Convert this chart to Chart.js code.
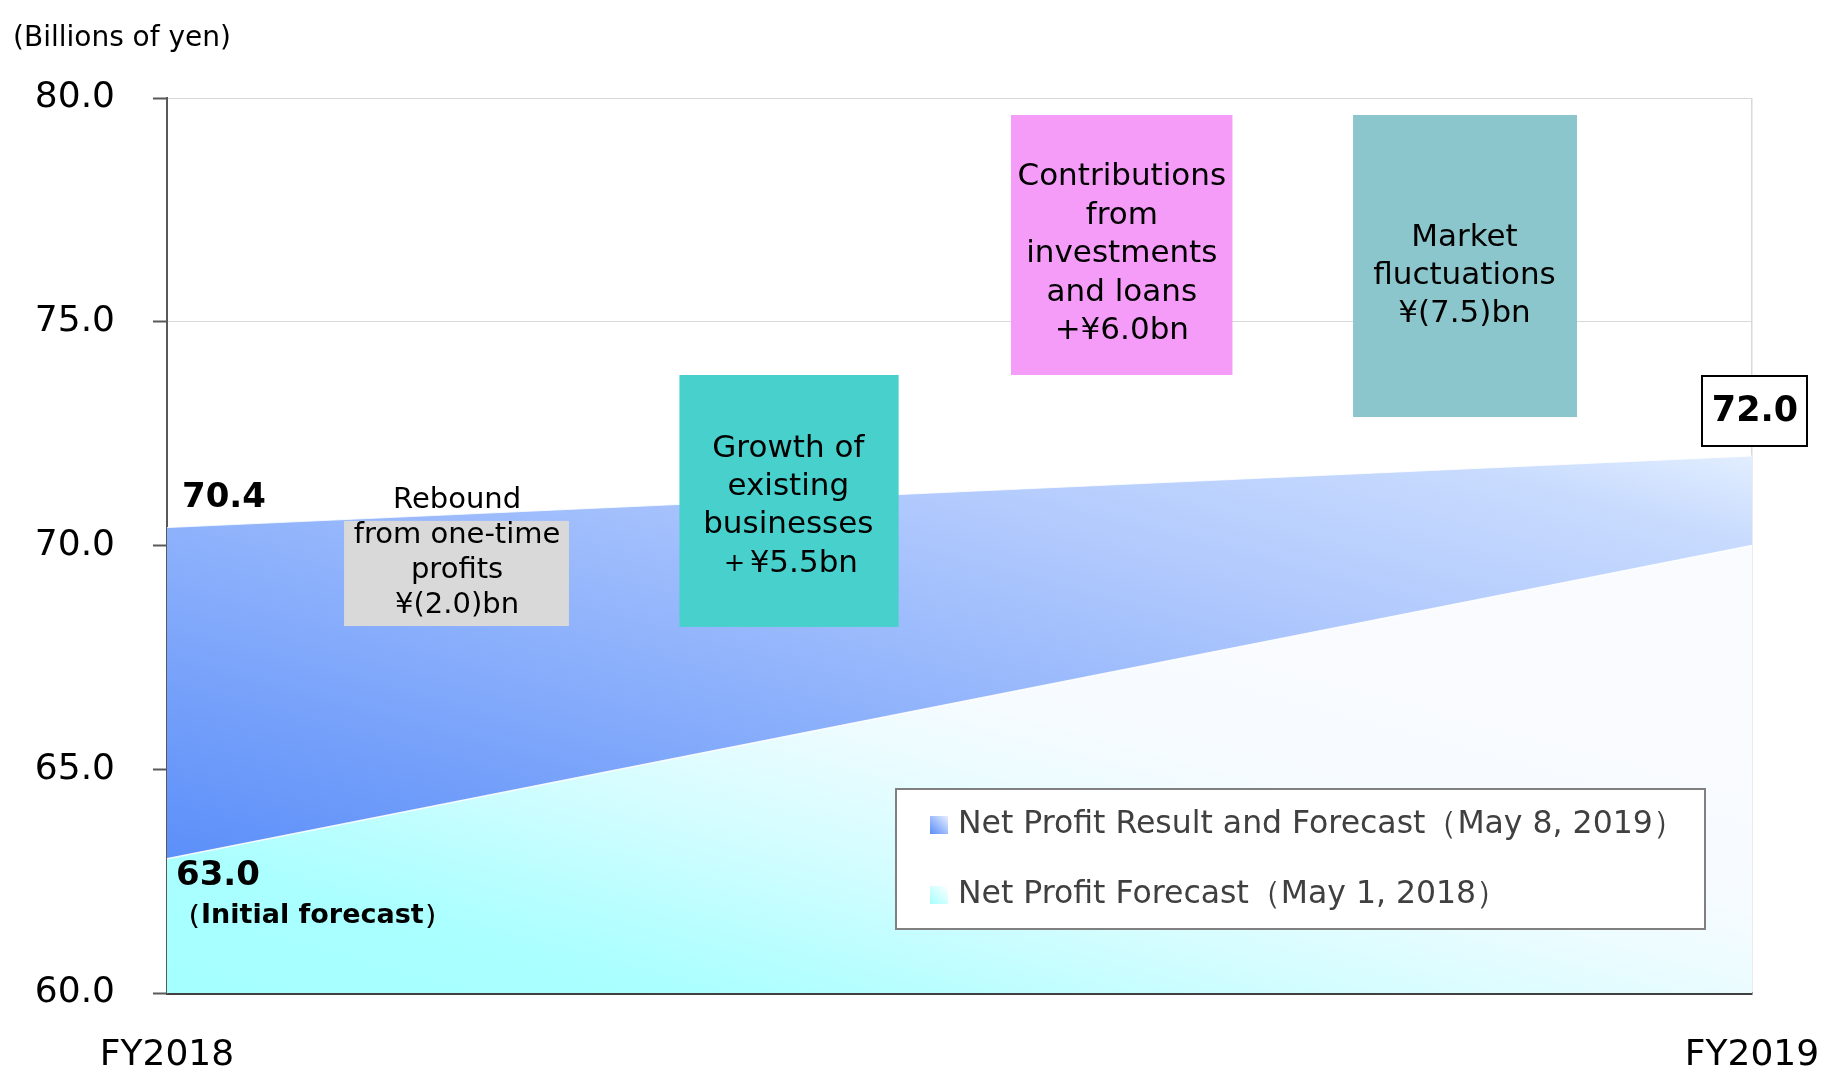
<!DOCTYPE html>
<html>
<head>
<meta charset="utf-8">
<script src="https://cdn.jsdelivr.net/npm/chart.js@4.4.1/dist/chart.umd.min.js"></script>
<style>
  html, body { margin: 0; padding: 0; background: #fff; }
  canvas { display: block; }
</style>
</head>
<body>
<canvas id="grafico" width="1837" height="1070"></canvas>
<script>
// Dados do gráfico (bilhões de ienes)
const anos = ['FY2018', 'FY2019'];
const resultado2019 = [70.4, 72.0];   // Net Profit Result and Forecast (May 8, 2019)
const previsao2018 = [63.0, 70.0];    // Net Profit Forecast (May 1, 2018)
const nomesSeries = ['Net Profit Result and Forecast（May 8, 2019）', 'Net Profit Forecast（May 1, 2018）'];
const eixoY = { min: 60, max: 80, passo: 5 };

// Textos das caixas explicativas
const textosCaixas = [
  ['Rebound', 'from one-time', 'profits', '¥(2.0)bn'],
  ['Growth of', 'existing', 'businesses', '＋¥5.5bn'],
  ['Contributions', 'from', 'investments', 'and loans', '+¥6.0bn'],
  ['Market', 'fluctuations', '¥(7.5)bn']
];

const FONTE = "'DejaVu Sans', Verdana, sans-serif";

// Posição das caixas em unidades do gráfico (x: 0 = FY2018, 1 = FY2019)
const caixas = [
  { x0: 0.1117, x1: 0.2536, y0: 70.55, y1: 68.20, cx: 0.183, cy: 69.84, linha: 35, tam: 29, cor: '#d9d9d9' },
  { x0: 0.3233, x1: 0.4616, y0: 73.81, y1: 68.18, cx: 0.392, cy: 70.88, linha: 38.3, tam: 31, cor: '#48d1cc' },
  { x0: 0.5325, x1: 0.6722, y0: 79.62, y1: 73.81, cx: 0.6024, cy: 76.51, linha: 38.4, tam: 31, cor: '#f49cf8' },
  { x0: 0.7483, x1: 0.8896, y0: 79.62, y1: 72.87, cx: 0.8186, cy: 76.02, linha: 38.3, tam: 31, cor: '#8bc6cc' }
];

// Gradiente na direção da diagonal (igual para as duas áreas)
function gradiente(chart, comprimento, paradas) {
  const a = chart.chartArea;
  const dx = 0.261, dy = -0.965;
  const L = comprimento * (a.bottom - a.top);
  const g = chart.ctx.createLinearGradient(a.left, a.bottom, a.left + dx * L, a.bottom + dy * L);
  paradas.forEach(p => g.addColorStop(p[0], p[1]));
  return g;
}

const paradasAzul = [
  [0, 'rgb(71,129,248)'],
  [0.6, 'rgb(175,200,253)'],
  [0.77, 'rgb(200,219,254)'],
  [0.86, 'rgb(230,241,255)'],
  [1, 'rgb(240,247,255)']
];
const paradasCiano = [
  [0, 'rgb(165,255,255)'],
  [0.19, 'rgb(170,255,255)'],
  [0.29, 'rgb(185,254,255)'],
  [0.43, 'rgb(210,253,255)'],
  [0.6, 'rgb(235,252,255)'],
  [0.71, 'rgb(246,251,255)'],
  [1, 'rgb(250,251,255)']
];

function texto(ctx, str, x, y, fonte, alinhamento, cor) {
  ctx.font = fonte;
  ctx.textAlign = alinhamento || 'center';
  ctx.textBaseline = 'middle';
  ctx.fillStyle = cor || '#000';
  ctx.fillText(str, x, y);
}

// Caixas, rótulos e legenda
const anotacoes = {
  id: 'anotacoes',
  afterDatasetsDraw(chart) {
    const { ctx, scales: { x, y } } = chart;
    ctx.save();
    caixas.forEach((c, i) => {
      const x0 = x.getPixelForValue(c.x0), x1 = x.getPixelForValue(c.x1);
      const y0 = y.getPixelForValue(c.y0), y1 = y.getPixelForValue(c.y1);
      ctx.fillStyle = c.cor;
      ctx.fillRect(x0, y0, x1 - x0, y1 - y0);
      const linhas = textosCaixas[i];
      const cx = x.getPixelForValue(c.cx);
      const cy = y.getPixelForValue(c.cy);
      linhas.forEach((l, j) => {
        const yy = cy + (j - (linhas.length - 1) / 2) * c.linha;
        texto(ctx, l, cx, yy, c.tam + 'px ' + FONTE, 'center', '#000');
      });
    });

    // valores nas pontas
    const xa = x.getPixelForValue(0);
    texto(ctx, resultado2019[0].toFixed(1), xa + 15, y.getPixelForValue(resultado2019[0]) - 29, 'bold 34px ' + FONTE, 'left');
    texto(ctx, previsao2018[0].toFixed(1), xa + 9, y.getPixelForValue(previsao2018[0]) + 17, 'bold 34px ' + FONTE, 'left');
    texto(ctx, '（Initial forecast）', xa + 7, y.getPixelForValue(previsao2018[0]) + 57, 'bold 27px ' + FONTE, 'left');

    // caixa do valor final
    const xb = x.getPixelForValue(1);
    const yb = y.getPixelForValue(resultado2019[1]) - 45;
    ctx.fillStyle = '#fff';
    ctx.fillRect(xb - 50, yb - 35, 105, 70);
    ctx.strokeStyle = '#000';
    ctx.lineWidth = 2;
    ctx.strokeRect(xb - 50, yb - 35, 105, 70);
    texto(ctx, resultado2019[1].toFixed(1), xb + 3, yb + 1, 'bold 35px ' + FONTE, 'center');

    // legenda
    ctx.fillStyle = '#fff';
    ctx.fillRect(896, 789, 809, 140);
    ctx.strokeStyle = '#808080';
    ctx.lineWidth = 2;
    ctx.strokeRect(896, 789, 809, 140);
    const itens = [
      { y: 825, g: [[0, '#5a8cf8'], [1, '#e6efff']] },
      { y: 895, g: [[0, '#a5ffff'], [1, '#ffffff']] }
    ];
    itens.forEach((it, i) => {
      const g = ctx.createLinearGradient(930, it.y + 9, 948, it.y - 9);
      it.g.forEach(p => g.addColorStop(p[0], p[1]));
      ctx.fillStyle = g;
      ctx.fillRect(930, it.y - 9, 18, 18);
      texto(ctx, nomesSeries[i], 958, it.y, '31.5px ' + FONTE, 'left', '#404040');
    });

    // título do eixo
    texto(ctx, '(Billions of yen)', 13, 39, '28px ' + FONTE, 'left', '#000');
    ctx.restore();
  }
};

const ctx = document.getElementById('grafico').getContext('2d');
new Chart(ctx, {
  type: 'line',
  data: {
    labels: anos,
    datasets: [
      {
        label: nomesSeries[0],
        data: resultado2019,
        fill: 'start',
        order: 2,
        backgroundColor: c => c.chart.chartArea ? gradiente(c.chart, 1.229, paradasAzul) : null,
        borderColor: 'rgba(255,255,255,0.8)',
        borderWidth: 1,
        pointRadius: 0
      },
      {
        label: nomesSeries[1],
        data: previsao2018,
        fill: 'start',
        order: 1,
        backgroundColor: c => c.chart.chartArea ? gradiente(c.chart, 0.782, paradasCiano) : null,
        borderColor: 'rgba(255,255,255,0.9)',
        borderWidth: 1.5,
        pointRadius: 0
      }
    ]
  },
  options: {
    responsive: false,
    devicePixelRatio: 1,
    animation: false,
    layout: { padding: { left: 0, top: 98, right: 85, bottom: 0 } },
    plugins: {
      legend: { display: false },
      tooltip: { enabled: false }
    },
    scales: {
      x: {
        type: 'category',
        offset: false,
        grid: { color: '#d9d9d9', lineWidth: 1.5, drawTicks: false },
        border: { color: '#404040', width: 3 },
        ticks: { font: { family: FONTE, size: 36 }, color: '#000', padding: 41, maxRotation: 0 },
        afterFit: s => { s.height = 77; s.paddingLeft = 0; s.paddingRight = 0; }
      },
      y: {
        min: eixoY.min,
        max: eixoY.max,
        grid: { color: '#d9d9d9', lineWidth: 1, tickLength: 14, tickColor: '#595959', tickWidth: 2 },
        border: { color: '#595959', width: 2 },
        ticks: {
          stepSize: eixoY.passo,
          font: { family: FONTE, size: 36 },
          color: '#000',
          padding: 38,
          callback: v => v.toFixed(1)
        },
        afterFit: s => { s.width = 167; }
      }
    }
  },
  plugins: [anotacoes]
});
</script>
</body>
</html>
